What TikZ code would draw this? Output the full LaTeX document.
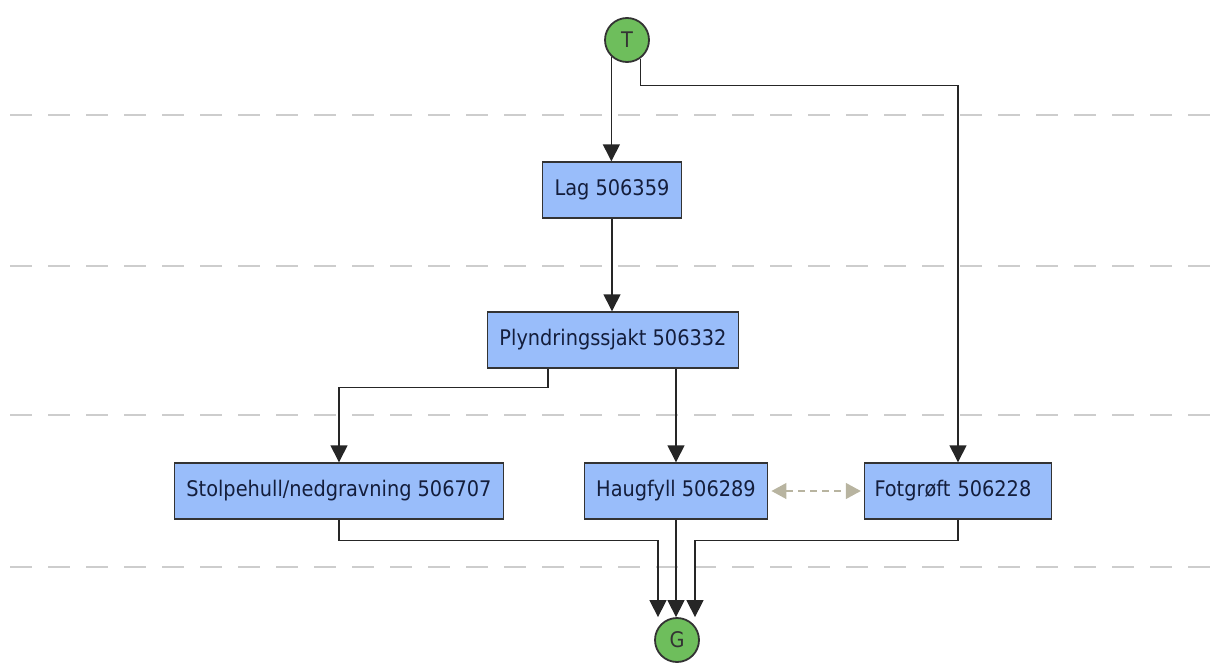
\documentclass[tikz,border=0pt]{standalone}
\usepackage{fontspec}
\setmainfont{DejaVu Sans Condensed}
\usetikzlibrary{arrows.meta, positioning}
\definecolor{unitblue}{RGB}{153,189,250}
\definecolor{termgreen}{RGB}{110,190,92}
\definecolor{labelnavy}{RGB}{20,30,60}
\definecolor{phasegray}{RGB}{205,205,205}
\definecolor{relgray}{RGB}{184,180,160}

\begin{document}
\begin{tikzpicture}[x=1pt, y=-1pt, font=\fontsize{21.5}{24}\selectfont,
    unitbox/.style={draw=black!80, fill=unitblue, text=labelnavy, minimum height=56pt, inner xsep=12pt, line width=1.4pt},
    term/.style={circle, draw=black!80, fill=termgreen, text=black!80, minimum size=44pt, inner sep=0pt, line width=1.8pt},
    flow/.style={-{Triangle[width=17pt,length=17pt]}, line width=1.4pt, draw=black!85},
    phase/.style={phasegray, line width=1.4pt, dash pattern=on 22pt off 16pt}]
    \useasboundingbox (0,0) rectangle (1216,669);
    % phase separators
    \foreach \y in {115, 266, 415, 567} {
        \draw[phase] (10,\y) -- (1216,\y);
    }
    \node[term] (t) at (627,40) {T};
    \node[unitbox] (lag) at (612,190) {Lag 506359};
    \node[unitbox] (plynd) at (613,340) {Plyndringssjakt 506332};
    \node[unitbox] (stolpe) at (339,491) {Stolpehull/nedgravning 506707};
    \node[unitbox] (haug) at (676,491) {Haugfyll 506289};
    \node[unitbox, text width=167pt, inner xsep=10pt, align=left] (fot) at (958,491) {Fotgrøft 506228};
    \node[term] (g) at (677,640) {G};

    \draw[flow] (t.-133) -- (t.-133 |- lag.north);
    \draw[flow] (t.-54) |- ++(0,27) -| (fot.north);
    \draw[flow] (lag.south) -- (lag.south |- plynd.north);
    \draw[flow] ([xshift=-65pt]plynd.south) -- ++(0,19) -| (stolpe.north);
    \draw[flow] (plynd.south -| haug.north) -- (haug.north);
    \draw[flow] (stolpe.south) -- ++(0,21) -| ([xshift=-19pt]g.north);
    \draw[flow] (haug.south) -- (haug.south |- g.north);
    \draw[flow] (fot.south) -- ++(0,21) -| ([xshift=18pt]g.north);
    \draw[relgray, line width=1.3pt, dash pattern=on 7pt off 5pt,
        {Triangle[width=16pt,length=15pt]}-{Triangle[width=16pt,length=15pt]}]
        ([xshift=3pt]haug.east) -- ([xshift=-3pt]fot.west);
\end{tikzpicture}
\end{document}
